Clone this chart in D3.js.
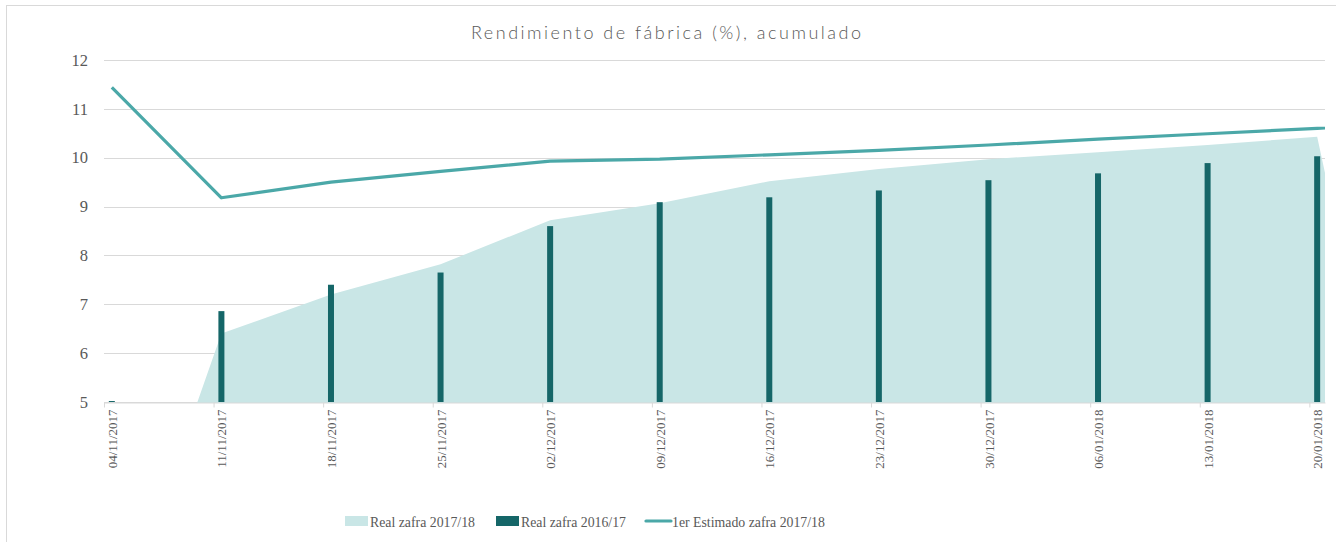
<!DOCTYPE html>
<html>
<head>
<meta charset="utf-8">
<script src="https://cdn.jsdelivr.net/npm/d3@7"></script>
<style>
  body { margin: 0; background: #fff; }
  svg { display: block; }
</style>
</head>
<body>
<script>
// data (weekly, last date is past the axis and gets clipped)
var dates = ["04/11/2017", "11/11/2017", "18/11/2017", "25/11/2017", "02/12/2017", "09/12/2017",
  "16/12/2017", "23/12/2017", "30/12/2017", "06/01/2018", "13/01/2018", "20/01/2018", "27/01/2018"];
var real1718 = [0, 6.40, 7.20, 7.82, 8.72, 9.07, 9.52, 9.77, 9.97, 10.11, 10.26, 10.43, 0];
var real1617 = [5.02, 6.86, 7.40, 7.65, 8.60, 9.09, 9.19, 9.33, 9.54, 9.68, 9.89, 10.03, null];
var estimado = [11.44, 9.18, 9.50, 9.72, 9.93, 9.97, 10.06, 10.15, 10.26, 10.38, 10.49, 10.60, 10.71];
var yTicks = [5, 6, 7, 8, 9, 10, 11, 12];
var tickDates = dates.slice(0, 12);
var legendNames = ["Real zafra 2017/18", "Real zafra 2016/17", "1er Estimado zafra 2017/18"];

var W = 1336, H = 542;
var colArea = "#c9e6e6", colBar = "#156668", colLine = "#4ba8a8", grid = "#d9d9d9", txt = "#595959";

var parse = d3.utcParse("%d/%m/%Y");
var rows = dates.map(function(d, i) {
  return { date: parse(d), a: real1718[i], b: real1617[i], c: estimado[i] };
});
function mid(d) { return d3.utcHour.offset(d, 12); }

var x = d3.scaleUtc()
  .domain([parse(dates[0]), d3.utcDay.offset(parse(tickDates[tickDates.length - 1]), 1)])
  .range([104, 1325]);
var y = d3.scaleLinear().domain([5, 12]).range([402, 60]);

var svg = d3.select("body").append("svg").attr("width", W).attr("height", H);

// chart frame
svg.append("rect").attr("x", 6.5).attr("y", 5.5).attr("width", W).attr("height", H)
  .attr("fill", "#fff").attr("stroke", grid);

svg.append("text").attr("x", 666).attr("y", 38.5).attr("text-anchor", "middle")
  .attr("font-family", "Lato, 'Open Sans', sans-serif").attr("font-weight", 300).attr("font-size", 18)
  .attr("textLength", 390).attr("lengthAdjust", "spacing")
  .attr("fill", txt).text("Rendimiento de fábrica (%), acumulado");

svg.append("clipPath").attr("id", "plot").append("rect")
  .attr("x", x.range()[0]).attr("y", y(12) - 5)
  .attr("width", x.range()[1] - x.range()[0]).attr("height", y(5) - y(12) + 6);

// gridlines + y labels
svg.append("g").selectAll("line").data(yTicks).join("line")
  .attr("x1", x.range()[0]).attr("x2", x.range()[1])
  .attr("y1", function(d) { return Math.round(y(d)) + 0.5; })
  .attr("y2", function(d) { return Math.round(y(d)) + 0.5; })
  .attr("stroke", grid);

svg.append("g").selectAll("text").data(yTicks).join("text")
  .attr("x", 88).attr("y", function(d) { return y(d); }).attr("dy", "0.35em")
  .attr("text-anchor", "end").attr("font-family", "'Liberation Serif', serif")
  .attr("font-size", 16.5).attr("fill", txt).text(function(d) { return d; });

var plot = svg.append("g").attr("clip-path", "url(#plot)");

var area = d3.area()
  .x(function(d) { return x(mid(d.date)); })
  .y0(y(0)).y1(function(d) { return y(d.a); });
plot.append("path").datum(rows).attr("d", area).attr("fill", colArea);

plot.append("g").selectAll("rect").data(rows.filter(function(d) { return d.b != null; })).join("rect")
  .attr("x", function(d) { return x(mid(d.date)) - 3; })
  .attr("width", 6)
  .attr("y", function(d) { return y(d.b); })
  .attr("height", function(d) { return y(5) - y(d.b); })
  .attr("fill", colBar);

var line = d3.line()
  .x(function(d) { return x(mid(d.date)); })
  .y(function(d) { return y(d.c); });
plot.append("path").datum(rows).attr("d", line)
  .attr("fill", "none").attr("stroke", colLine).attr("stroke-width", 3.2)
  .attr("stroke-linejoin", "round");

// x axis
var xAxis = d3.axisBottom(x)
  .tickValues(tickDates.map(parse))
  .tickFormat(function(d, i) { return tickDates[i]; })
  .tickSize(5).tickSizeOuter(0);
var gx = svg.append("g").attr("transform", "translate(0," + (Math.round(y(5)) + 0.5) + ")").call(xAxis);
gx.select(".domain").attr("stroke", grid);
gx.selectAll(".tick line").attr("stroke", grid);
var half = x(mid(parse(dates[0]))) - x(parse(dates[0]));
gx.selectAll(".tick text")
  .attr("transform", "translate(" + half + ",7) rotate(-90)")
  .attr("x", 0).attr("y", 0).attr("dy", "0.35em")
  .attr("text-anchor", "end")
  .attr("font-family", "'Liberation Serif', serif").attr("font-size", 13)
  .attr("fill", txt);

// legend
var lg = svg.append("g").attr("font-family", "'Liberation Serif', serif").attr("font-size", 13.8).attr("fill", txt);
var lx = [345, 496, 646];
lg.append("rect").attr("x", lx[0]).attr("y", 516).attr("width", 23).attr("height", 10).attr("fill", colArea);
lg.append("rect").attr("x", lx[1]).attr("y", 516).attr("width", 23).attr("height", 10).attr("fill", colBar);
lg.append("line").attr("x1", lx[2]).attr("x2", lx[2] + 25).attr("y1", 521).attr("y2", 521)
  .attr("stroke", colLine).attr("stroke-width", 3.2).attr("stroke-linecap", "round");
var tx = [370, 521, 672];
legendNames.forEach(function(n, i) {
  lg.append("text").attr("x", tx[i]).attr("y", 526.5).text(n);
});
</script>
</body>
</html>
